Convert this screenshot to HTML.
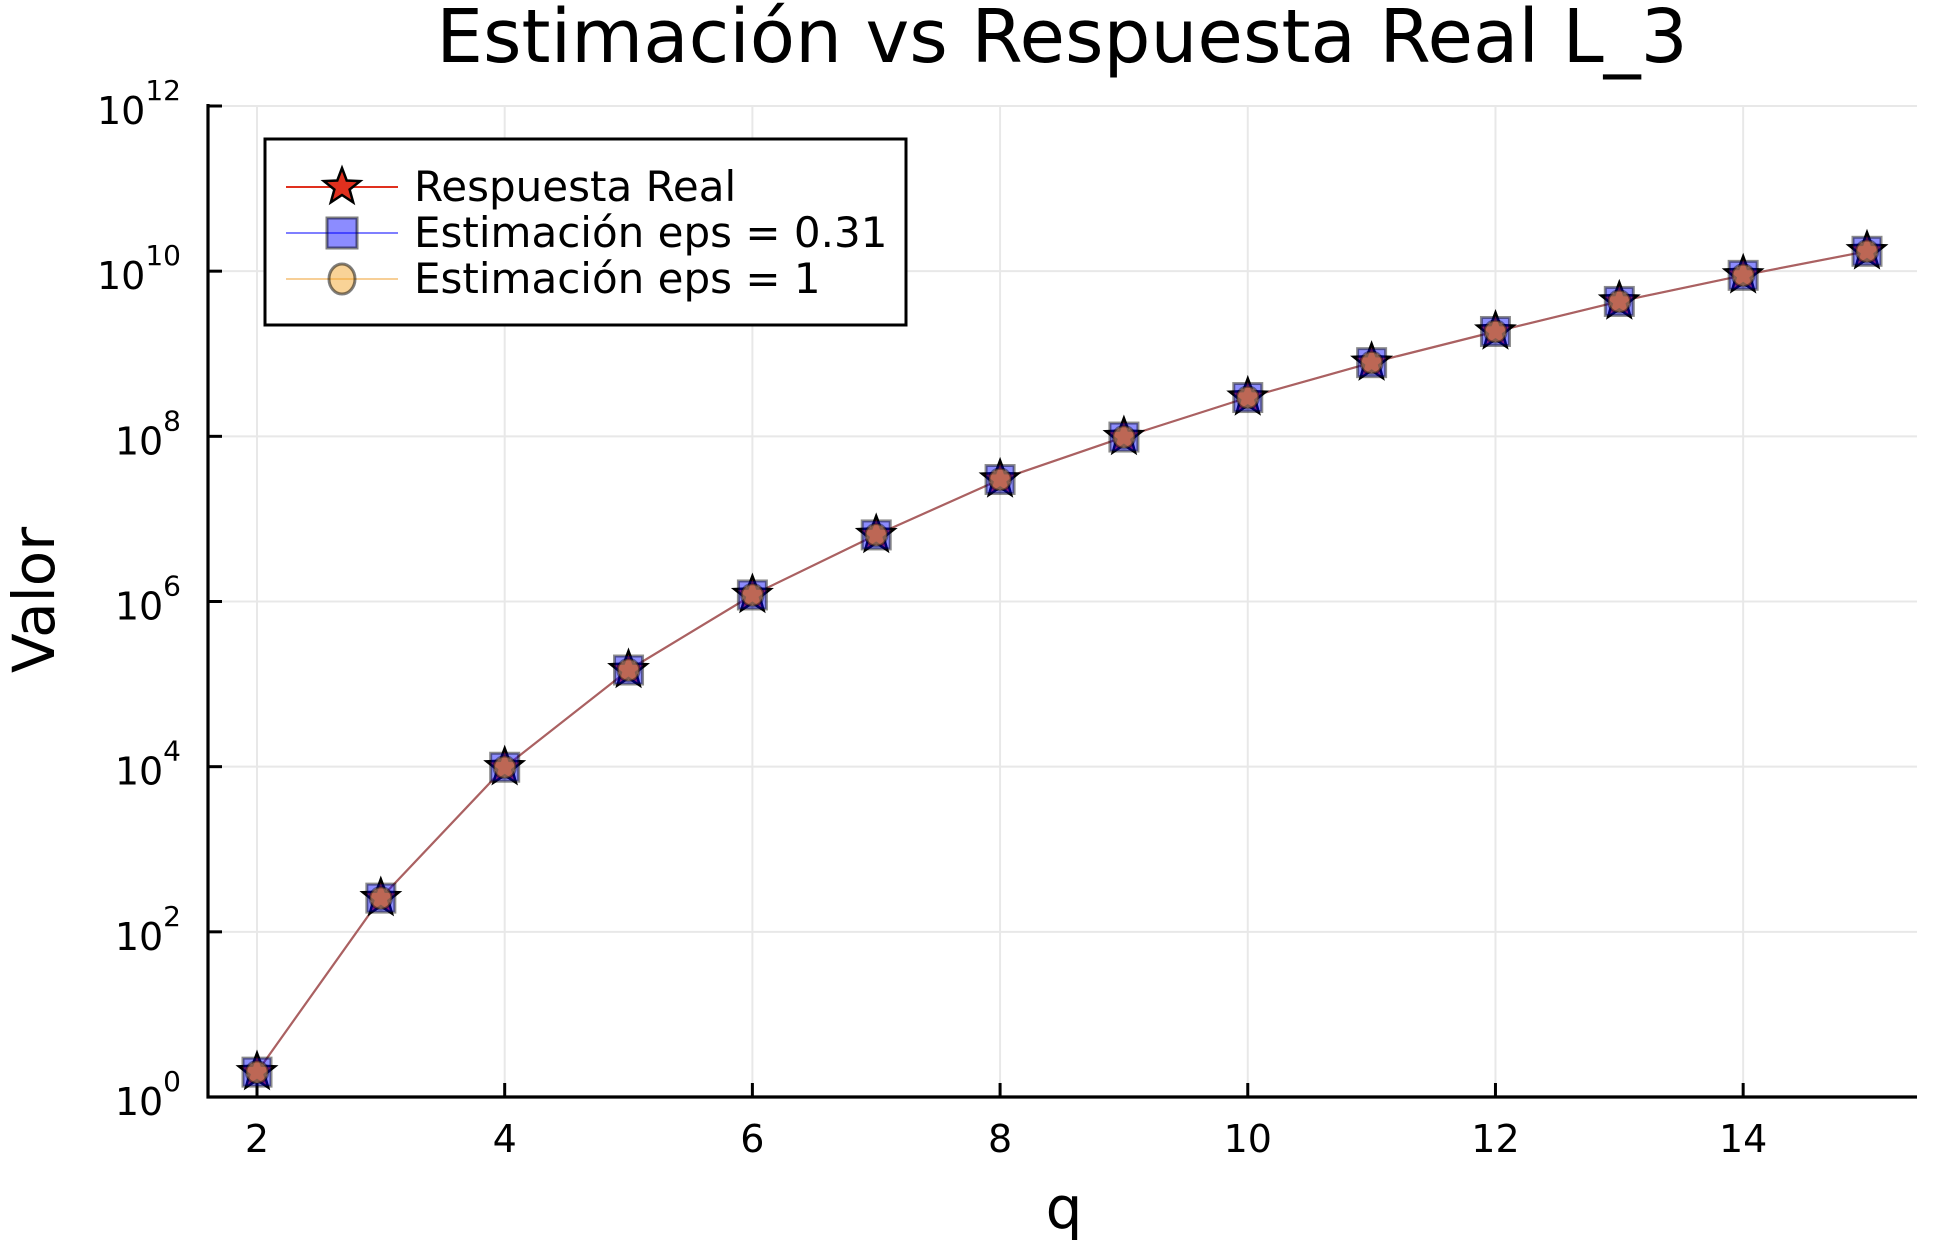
<!DOCTYPE html>
<html><head><meta charset="utf-8"><style>
html,body{margin:0;padding:0;background:#fff;}
svg{display:block;font-family:"DejaVu Sans","Liberation Sans",sans-serif;}
</style></head><body>
<svg id="chart" width="1948" height="1244" viewBox="0 0 1948 1244" xmlns="http://www.w3.org/2000/svg">
<rect width="1948" height="1244" fill="#fff"/>
<text x="1062" y="62" font-size="74" text-anchor="middle">Estimación vs Respuesta Real L_3</text>
<g id="grid"></g>
<g id="axes"></g>
<g id="series"></g>
<text x="1064" y="1228" font-size="58" text-anchor="middle">q</text>
<text transform="translate(54,600) rotate(-90)" font-size="58" text-anchor="middle">Valor</text>
<g id="legend">
<rect x="265" y="139" width="641" height="186" fill="#fff" stroke="#000" stroke-width="3"/>
<g>
<line x1="286" y1="187" x2="398" y2="187" stroke="#e0301e" stroke-width="2"/>
<polygon id="legstar" fill="#e0301e" stroke="#000" stroke-width="2.5"/>
<text x="414" y="201" font-size="42">Respuesta Real</text>
</g>
<g>
<line x1="286" y1="233" x2="398" y2="233" stroke="#0000ff" stroke-opacity="0.5" stroke-width="2"/>
<rect x="327" y="218" width="30" height="30" fill="#0000ff" fill-opacity="0.45" stroke="#000" stroke-opacity="0.5" stroke-width="3"/>
<text x="414" y="247" font-size="42">Estimación eps = 0.31</text>
</g>
<g>
<line x1="286" y1="279" x2="398" y2="279" stroke="#f0a030" stroke-opacity="0.5" stroke-width="2"/>
<ellipse cx="342" cy="279" rx="13" ry="15" fill="#f4a830" fill-opacity="0.5" stroke="#000" stroke-opacity="0.5" stroke-width="3"/>
<text x="414" y="293" font-size="42">Estimación eps = 1</text>
</g>
</g>
</svg>
<script>
const categories = [2,3,4,5,6,7,8,9,10,11,12,13,14,15];
const realValues = [2, 256, 9841, 1.48e5, 1.2e6, 6.4e6, 3.0e7, 9.8e7, 2.95e8, 7.8e8, 1.86e9, 4.3e9, 8.9e9, 1.74e10];
const est031Values = [2, 256, 9841, 1.48e5, 1.2e6, 6.4e6, 3.0e7, 9.8e7, 2.95e8, 7.8e8, 1.86e9, 4.3e9, 8.9e9, 1.74e10];
const est1Values = [2, 256, 9841, 1.48e5, 1.2e6, 6.4e6, 3.0e7, 9.8e7, 2.95e8, 7.8e8, 1.86e9, 4.3e9, 8.9e9, 1.74e10];
const xTicks = [2,4,6,8,10,12,14];
const yTickExps = [0,2,4,6,8,10,12];

const NS = "http://www.w3.org/2000/svg";
const L = 208, R = 1917, B = 1097, T = 106;
function xs(v){ return 257 + (v - 2) * (1867 - 257) / 13; }
function ys(v){ return B - Math.log10(v) * (B - T) / 12; }
function mk(tag, attrs, parent){ const e = document.createElementNS(NS, tag); for (const k in attrs) e.setAttribute(k, attrs[k]); parent.appendChild(e); return e; }
function starPts(cx, cy, r){ let p=[]; for(let i=0;i<10;i++){ const a=-Math.PI/2+i*Math.PI/5; const rr=i%2?r*0.42:r; p.push((cx+rr*Math.cos(a)).toFixed(1)+","+(cy+rr*Math.sin(a)).toFixed(1)); } return p.join(" "); }

const grid = document.getElementById('grid');
const axes = document.getElementById('axes');
const series = document.getElementById('series');

xTicks.forEach(t => {
  const x = xs(t);
  const g = mk('line', {x1:x, y1:T, x2:x, y2:B, stroke:'#e8e8e8', 'stroke-width':2}, grid);
  
  
  const tk = mk('line', {x1:x, y1:B, x2:x, y2:B-14, stroke:'#000', 'stroke-width':3}, axes);
  
  
  const lb = mk('text', {x:x, y:1152, 'font-size':38, 'text-anchor':'middle'}, axes);
  lb.textContent = t;
  
  
});
yTickExps.forEach(e => {
  const y = ys(Math.pow(10, e));
  const g = mk('line', {x1:L, y1:y, x2:R, y2:y, stroke:'#e8e8e8', 'stroke-width':2}, grid);
  
  
  const tk = mk('line', {x1:L, y1:y, x2:L+14, y2:y, stroke:'#000', 'stroke-width':3}, axes);
  
  
  const lb = mk('text', {x:181, y:y+18, 'font-size':38, 'text-anchor':'end'}, axes);
  
  
  const base = mk('tspan', {}, lb);
  base.textContent = '10';
  const sp = mk('tspan', {dy:-24, 'font-size':28}, lb);
  sp.textContent = e;
});
const ax1 = mk('line', {x1:L, y1:T-2, x2:L, y2:B+1.5, stroke:'#000', 'stroke-width':3.2}, axes);


const ax2 = mk('line', {x1:L-1.5, y1:B, x2:R, y2:B, stroke:'#000', 'stroke-width':3.2}, axes);



function path(vals){ return vals.map((v,i)=>(i?'L':'M')+xs(categories[i]).toFixed(1)+','+ys(v).toFixed(1)).join(' '); }

const l1 = mk('path', {d:path(realValues), fill:'none', stroke:'#b0605c', 'stroke-width':2.2}, series);


const l2 = mk('path', {d:path(est031Values), fill:'none', stroke:'#0000ff', 'stroke-opacity':0.1, 'stroke-width':2}, series);


const l3 = mk('path', {d:path(est1Values), fill:'none', stroke:'#f0a030', 'stroke-opacity':0.15, 'stroke-width':2}, series);



realValues.forEach((v,i) => {
  const s = mk('polygon', {points:starPts(xs(categories[i]), ys(v), 19), fill:'#e0301e', stroke:'#000', 'stroke-width':2.5}, series);
  
  
});
est031Values.forEach((v,i) => {
  const x = xs(categories[i]), y = ys(v);
  const s = mk('rect', {x:x-14, y:y-14, width:28, height:28, fill:'#0000ff', 'fill-opacity':0.45, stroke:'#000', 'stroke-opacity':0.45, 'stroke-width':3}, series);
  
  
});
est1Values.forEach((v,i) => {
  const c = mk('circle', {cx:xs(categories[i]), cy:ys(v), r:11, fill:'#f4a830', 'fill-opacity':0.55, stroke:'#000', 'stroke-opacity':0.4, 'stroke-width':2.5}, series);
  
  
});
document.getElementById('legstar').setAttribute('points', starPts(342, 187, 19));
</script>
</body></html>
